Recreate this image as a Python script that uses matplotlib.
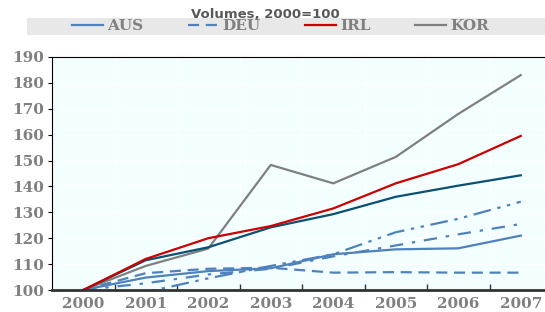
import matplotlib
matplotlib.use("Agg")
import matplotlib.pyplot as plt
from matplotlib.patches import Rectangle
import numpy as np

years = ["2000", "2001", "2002", "2003", "2004", "2005", "2006", "2007"]

aus = [100, 104.8, 107.3, 108.4, 113.8, 115.7, 116.1, 121.0]
deu = [100, 106.5, 108.2, 108.6, 106.7, 106.9, 106.7, 106.7]
irl = [100, 112.0, 120.0, 124.7, 131.5, 141.2, 148.6, 159.5]
kor = [100, 109.3, 116.0, 148.3, 141.2, 151.4, 168.0, 183.0]
navy = [100, 111.5, 116.5, 124.2, 129.3, 136.0, 140.3, 144.3]
dashdot_a = [100, 99.2, 104.5, 109.3, 113.8, 122.3, 127.5, 134.1]
dashdot_b = [100, 102.6, 106.0, 108.2, 113.0, 117.2, 121.5, 125.5]

BLUE = "#4f81bd"
GRAY_TXT = "#808080"

fig = plt.figure(figsize=(5.45, 3.12), dpi=100)
W, H = 545.0, 312.0
ax = fig.add_axes([52 / W, 1 - 290 / H, (552 - 52) / W, (290 - 57) / H])
ax.set_facecolor("#f2feff")

x = np.arange(len(years))
lw = 1.6
ax.plot(x, dashdot_a, color=BLUE, lw=lw, dashes=(8, 3, 1.5, 3, 1.5, 3))
ax.plot(x, dashdot_b, color=BLUE, lw=lw, dashes=(6, 4, 1.5, 4))
ax.plot(x, deu, color=BLUE, lw=lw, dashes=(5, 3), label="DEU")
ax.plot(x, aus, color=BLUE, lw=lw, label="AUS")
ax.plot(x, kor, color="#7f7f7f", lw=lw, label="KOR")
ax.plot(x, navy, color="#0b4f71", lw=lw)
ax.plot(x, irl, color="#cc0000", lw=lw, label="IRL")

ax.set_xlim(-0.5, 7.5)
ax.set_ylim(100, 190)
ax.set_yticks(np.arange(100, 191, 10))
ax.set_xticks(x)
ax.set_xticklabels(years)
ax.set_xticks(x[:-1] + 0.5, minor=True)
ax.tick_params(axis="x", which="major", length=0, pad=5)
ax.tick_params(axis="x", which="minor", direction="in", length=4, width=1, color="#333333")
ax.tick_params(axis="y", direction="out", length=3, width=0.8, pad=3)
for lab in ax.get_xticklabels() + ax.get_yticklabels():
    lab.set_fontfamily("DejaVu Serif")
    lab.set_fontweight("bold")
    lab.set_color(GRAY_TXT)
    lab.set_fontsize(11)

ax.grid(True, which="major", axis="y", color="white", lw=0.8)
ax.grid(True, which="minor", axis="x", color="white", lw=0.8)
ax.set_axisbelow(True)
ax.spines["right"].set_visible(False)
ax.spines["top"].set_color("black")
ax.spines["top"].set_linewidth(0.8)
ax.spines["left"].set_color("black")
ax.spines["left"].set_linewidth(0.8)
ax.spines["bottom"].set_color("#333333")
ax.spines["bottom"].set_linewidth(2)

# legend band
fig.patches.append(Rectangle((27 / W, 1 - 35 / H), (W - 27) / W, 17 / H,
                             transform=fig.transFigure, facecolor="#e8e8e8",
                             edgecolor="none", zorder=0))
handles, labels = ax.get_legend_handles_labels()
order = ["AUS", "DEU", "IRL", "KOR"]
hmap = dict(zip(labels, handles))
leg = fig.legend([hmap[k] for k in order], order, ncol=4, loc="center left",
                 bbox_to_anchor=(72 / W, 1 - 26.5 / H), frameon=False,
                 prop={"family": "DejaVu Serif", "weight": "bold", "size": 11},
                 handlelength=2.0, handletextpad=0.3, columnspacing=2.9,
                 borderpad=0, borderaxespad=0)
for t in leg.get_texts():
    t.set_color(GRAY_TXT)

fig.text(265 / W, 1 - 15 / H, "Volumes, 2000=100", ha="center", va="center",
         fontsize=9.5, fontweight="bold", color="#595959", family="DejaVu Sans")

fig.savefig("out.png", dpi=100)
